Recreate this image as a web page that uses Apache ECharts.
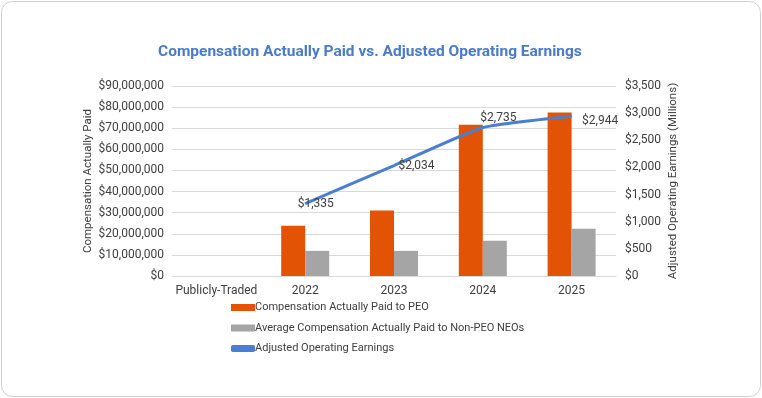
<!DOCTYPE html>
<html>
<head>
<meta charset="utf-8">
<script src="https://cdn.jsdelivr.net/npm/echarts@6/dist/echarts.min.js"></script>
<style>
  html, body { margin: 0; padding: 0; background: #fff; }
  #chart { width: 762px; height: 398px; }
</style>
</head>
<body>
<div id="chart"></div>
<script>
// categories + values
var years = ['Publicly-Traded', '2022', '2023', '2024', '2025'];
var peoPaid = [null, 23800000, 31000000, 71700000, 77500000];
var neoPaid = [null, 11900000, 11900000, 16700000, 22400000];
var earnings = [null, 1335, 2034, 2735, 2944];

var leftTicks = { min: 0, max: 90000000, interval: 10000000 };
var rightTicks = { min: 0, max: 3500, interval: 500 };

// where each earnings label sits next to its point
var labelShift = [[0, 0], [-8, 0], [4, 0], [-3, -10], [10, 5]];

var txt = '#404040';
var fnt = 'Roboto';

function money(v) {
  return '$' + Number(v).toLocaleString('en-US');
}

var myChart = echarts.init(document.getElementById('chart'));

var lineData = earnings.map(function (v, i) {
  return { value: v, label: { offset: labelShift[i] } };
});

option = {
  animation: false,
  textStyle: { fontFamily: fnt },
  // rounded card border
  graphic: [{
    type: 'rect',
    shape: { x: 1.5, y: 1.5, width: 759, height: 395, r: 11 },
    style: { fill: 'none', stroke: '#cfcfcf', lineWidth: 1 },
    silent: true
  }],
  title: {
    text: 'Compensation Actually Paid vs. Adjusted Operating Earnings',
    left: 153,
    top: 39,
    textStyle: { color: '#4a7bc9', fontSize: 15.5, fontWeight: 'bold', fontFamily: fnt }
  },
  grid: { left: 172, right: 146, top: 86, bottom: 122 },
  legend: {
    orient: 'vertical',
    left: 226,
    top: 297,
    itemWidth: 24,
    itemHeight: 7,
    itemGap: 9.5,
    textStyle: { color: txt, fontSize: 11, padding: [0, 0, 0, -5] },
    data: [
      { name: 'Compensation Actually Paid to PEO', icon: 'rect' },
      { name: 'Average Compensation Actually Paid to Non-PEO NEOs', icon: 'rect' },
      { name: 'Adjusted Operating Earnings', icon: 'roundRect' }
    ]
  },
  xAxis: {
    type: 'category',
    data: years,
    axisLine: { lineStyle: { color: '#d9d9d9' } },
    axisTick: { show: false },
    axisLabel: { color: txt, fontSize: 12, margin: 9, interval: 0 }
  },
  yAxis: [{
    type: 'value',
    min: leftTicks.min, max: leftTicks.max, interval: leftTicks.interval,
    name: 'Compensation Actually Paid',
    nameLocation: 'middle',
    nameGap: 78,
    nameMoveOverlap: false,
    nameTextStyle: { color: txt, fontSize: 11.5 },
    axisLabel: { color: txt, fontSize: 12, margin: 8, formatter: money },
    splitLine: { lineStyle: { color: '#d9d9d9' } }
  }, {
    type: 'value',
    min: rightTicks.min, max: rightTicks.max, interval: rightTicks.interval,
    name: 'Adjusted Operating Earnings (Millions)',
    nameLocation: 'middle',
    nameGap: 51,
    nameRotate: 90,
    nameMoveOverlap: false,
    nameTextStyle: { color: txt, fontSize: 11.5 },
    axisLabel: { color: txt, fontSize: 12, margin: 9, formatter: money },
    splitLine: { show: false }
  }],
  series: [{
    name: 'Compensation Actually Paid to PEO',
    type: 'bar',
    data: peoPaid,
    barWidth: 24,
    barGap: '0%',
    itemStyle: { color: '#e25305' }
  }, {
    name: 'Average Compensation Actually Paid to Non-PEO NEOs',
    type: 'bar',
    data: neoPaid,
    barWidth: 24,
    barGap: '0%',
    itemStyle: { color: '#a5a5a5' }
  }, {
    name: 'Adjusted Operating Earnings',
    type: 'line',
    yAxisIndex: 1,
    data: lineData,
    symbol: 'circle',
    symbolSize: 1,
    smooth: 0.15,
    lineStyle: { color: '#4a7fcf', width: 3 },
    itemStyle: { color: '#4a7fcf' },
    label: {
      show: true,
      position: 'right',
      distance: 0,
      color: txt,
      fontSize: 12,
      formatter: function (p) { return money(p.value); }
    }
  }]
};

myChart.setOption(option);
</script>
</body>
</html>
